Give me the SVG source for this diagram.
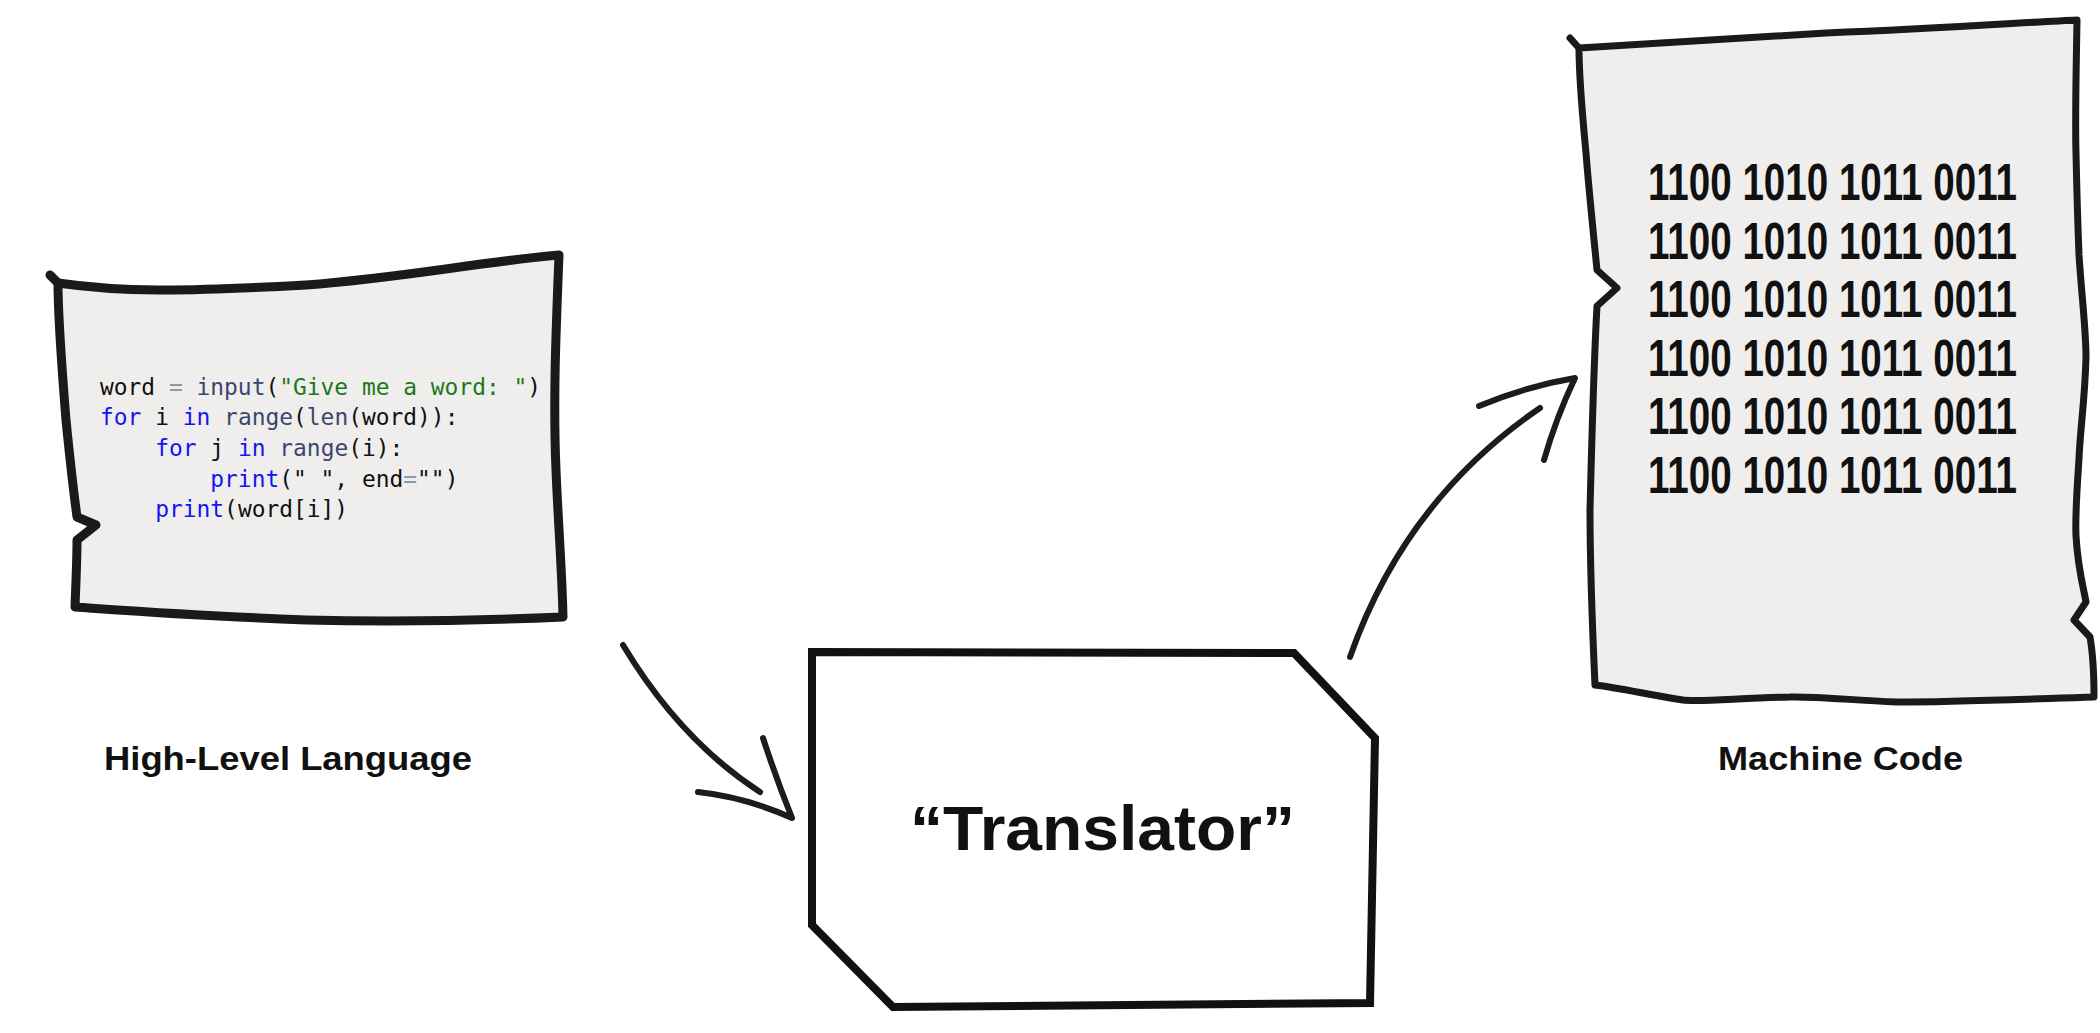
<svg xmlns="http://www.w3.org/2000/svg" width="2100" height="1033" viewBox="0 0 2100 1033">
<style>
.paper{fill:#efeeec;stroke:#1a1a1a;stroke-linejoin:round;stroke-linecap:round}
.tick{fill:none;stroke:#1a1a1a;stroke-linecap:round}
.conn{fill:none;stroke:#1c1c1c;stroke-width:6;stroke-linecap:round;stroke-linejoin:round}
.code{font-family:"DejaVu Sans Mono","Liberation Mono",monospace;font-size:22.9px;fill:#111}
.op{fill:#8c9aa6}.bi{fill:#3b4670}.st{fill:#1a7a1a}.kw{fill:#1515f0}
.bin{font-family:"Liberation Sans",Arial,sans-serif;font-weight:bold;font-size:52px;fill:#111}
.lbl{font-family:"Liberation Sans","DejaVu Sans",sans-serif;font-weight:bold;font-size:33px;fill:#111}
.big{font-family:"Liberation Sans",sans-serif;font-weight:bold;font-size:63px;fill:#111}
</style>
<rect width="2100" height="1033" fill="#ffffff"/>

<g id="high-level">
<path class="paper" stroke-width="9" d="M58,283 C120,292 180,292 306,285 C400,278 480,262 559,255 C556,330 553,400 556,470 C558,520 562,570 563,617 C450,622 350,621 306,620 C200,616 120,610 75,607 C76,580 77,560 77,540 L96,525 L77,517 C72,480 68,440 66,420 C62,370 58,320 58,283 Z"/>
<path class="tick" stroke-width="9" d="M50,275 L58,283"/>
<text class="code" x="100" y="395">word <tspan class="op">=</tspan> <tspan class="bi">input</tspan>(<tspan class="st">"Give me a word: "</tspan>)</text>
<text class="code" x="100" y="425"><tspan class="kw">for</tspan> i <tspan class="kw">in</tspan> <tspan class="bi">range</tspan>(<tspan class="bi">len</tspan>(word)):</text>
<text class="code" x="155.2" y="456"><tspan class="kw">for</tspan> j <tspan class="kw">in</tspan> <tspan class="bi">range</tspan>(i):</text>
<text class="code" x="210.3" y="487" xml:space="preserve"><tspan class="kw">print</tspan>(" ", end<tspan class="op">=</tspan>"")</text>
<text class="code" x="155.2" y="517"><tspan class="kw">print</tspan>(word[i])</text>
<text class="lbl" x="104" y="770" textLength="368" lengthAdjust="spacingAndGlyphs">High-Level Language</text>
</g>

<g id="translator">
<polygon points="812,652 1294,653 1375,738 1370,1003 893,1007 812,925" fill="#ffffff" stroke="#111" stroke-width="8" stroke-linejoin="miter"/>
<text class="big" x="910" y="850" textLength="385" lengthAdjust="spacingAndGlyphs">“Translator”</text>
</g>

<g id="machine-code">
<path class="paper" stroke-width="7" d="M1579,48 C1700,40 1800,34 1826,33 C1950,28 2030,22 2077,20 C2076,80 2075,120 2076,153 C2077,200 2078,230 2079,255 C2082,300 2086,330 2086,357 C2085,400 2080,430 2079,459 C2077,490 2075,515 2076,536 C2078,570 2084,590 2086,602 L2074,620 L2090,637 C2094,660 2094,680 2094,697 C2000,700 1950,702 1897,702 C1850,700 1810,696 1790,697 C1740,698 1700,702 1683,700 C1650,695 1620,688 1595,685 C1592,620 1590,560 1590,510 C1592,430 1594,360 1597,306 L1617,288 L1597,270 C1592,220 1588,180 1586,153 C1582,110 1579,80 1579,48 Z"/>
<path class="tick" stroke-width="7" d="M1570,38 L1579,48"/>
<g transform="translate(1648,0) scale(0.742,1)">
<text class="bin" x="0" y="200">1100 1010 1011 0011</text>
<text class="bin" x="0" y="258.6">1100 1010 1011 0011</text>
<text class="bin" x="0" y="317.2">1100 1010 1011 0011</text>
<text class="bin" x="0" y="375.8">1100 1010 1011 0011</text>
<text class="bin" x="0" y="434.4">1100 1010 1011 0011</text>
<text class="bin" x="0" y="493">1100 1010 1011 0011</text>
</g>
<text class="lbl" x="1718" y="770" textLength="245" lengthAdjust="spacingAndGlyphs">Machine Code</text>
</g>

<g id="connectors">
<path class="conn" d="M623,645 Q680,740 760,792"/>
<path class="conn" d="M763,738 Q776,778 792,818 Q745,797 698,792"/>
<path class="conn" d="M1350,657 Q1405,500 1540,408"/>
<path class="conn" d="M1479,406 Q1527,386 1575,378 Q1556,418 1544,460"/>
</g>
</svg>
